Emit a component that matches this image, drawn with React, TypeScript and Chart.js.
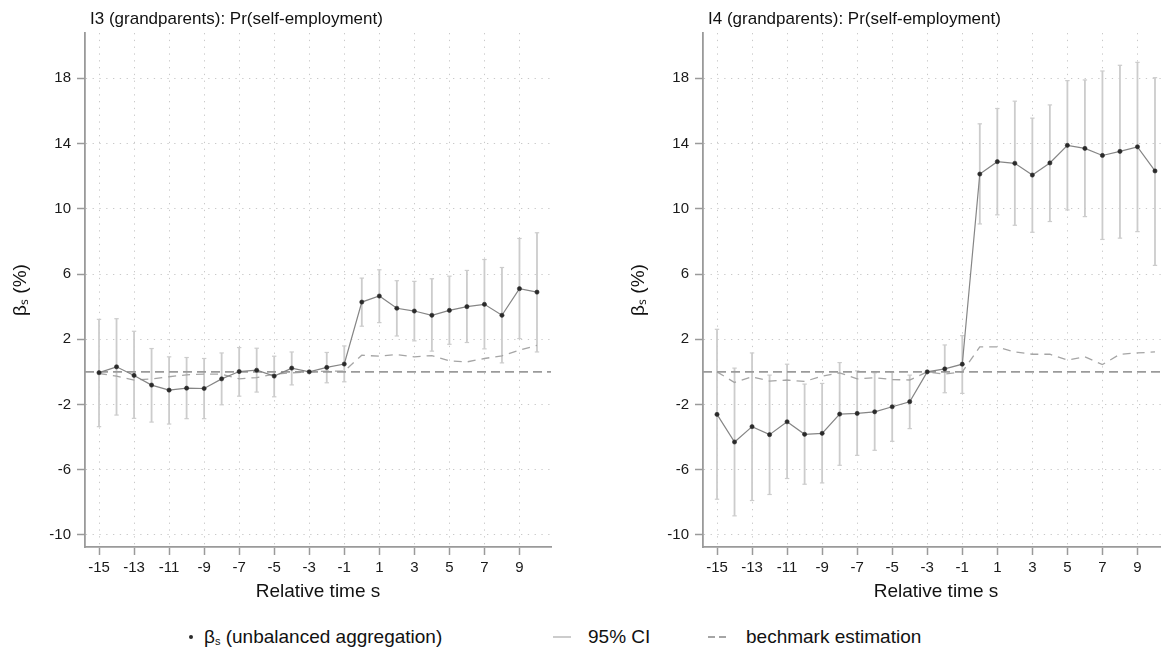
import React, { useEffect, useRef } from "react";
import { Chart, registerables } from "chart.js";

Chart.register(...registerables);

// ---------- data ----------
const relTime = [-15, -14, -13, -12, -11, -10, -9, -8, -7, -6, -5, -4, -3, -2, -1, 0, 1, 2, 3, 4, 5, 6, 7, 8, 9, 10];
const xTickLabels = [-15, -13, -11, -9, -7, -5, -3, -1, 1, 3, 5, 7, 9];
const yTickLabels = [-10, -6, -2, 2, 6, 10, 14, 18];

// I3 panel
const i3Beta = [-0.05, 0.31, -0.22, -0.81, -1.12, -1.0, -1.02, -0.43, 0.02, 0.1, -0.26, 0.23, 0, 0.27, 0.48, 4.28, 4.65, 3.9, 3.73, 3.47, 3.77, 4.0, 4.14, 3.47, 5.1, 4.89];
const i3Lo = [-3.36, -2.65, -2.85, -3.08, -3.2, -2.87, -2.87, -2.02, -1.49, -1.24, -1.53, -0.8, null, -0.67, -0.61, 2.8, 3.02, 2.2, 1.9, 1.27, 1.69, 1.8, 1.41, 0.55, 2.04, 1.22];
const i3Hi = [3.22, 3.26, 2.49, 1.43, 0.92, 0.88, 0.82, 1.16, 1.49, 1.45, 0.96, 1.22, null, 1.19, 1.59, 5.75, 6.26, 5.59, 5.55, 5.71, 5.87, 6.22, 6.89, 6.4, 8.18, 8.53];
const i3Bench = [-0.1, -0.26, -0.51, -0.43, -0.3, -0.18, -0.14, -0.14, -0.43, -0.35, -0.14, -0.06, 0, 0.04, 0.05, 1.02, 0.96, 1.06, 0.92, 1.0, 0.67, 0.61, 0.82, 0.98, 1.33, 1.63];

// I4 panel
const i4Beta = [-2.61, -4.3, -3.36, -3.85, -3.06, -3.83, -3.77, -2.59, -2.55, -2.45, -2.14, -1.83, 0, 0.18, 0.47, 12.13, 12.89, 12.79, 12.07, 12.81, 13.89, 13.7, 13.27, 13.52, 13.8, 12.32];
const i4Lo = [-7.81, -8.83, -7.89, -7.52, -6.54, -6.89, -6.81, -5.73, -5.12, -4.81, -4.26, -3.48, null, -1.28, -1.32, 9.07, 9.63, 8.99, 8.56, 9.22, 9.93, 9.52, 8.12, 8.2, 8.6, 6.53];
const i4Hi = [2.61, 0.23, 1.16, -0.2, 0.47, -0.75, -0.71, 0.57, 0.06, -0.06, -0.02, -0.2, null, 1.65, 2.22, 15.21, 16.15, 16.6, 15.56, 16.37, 17.86, 17.9, 18.45, 18.8, 18.98, 18.04];
const i4Bench = [0, -0.65, -0.3, -0.57, -0.5, -0.59, -0.26, -0.06, -0.43, -0.36, -0.47, -0.5, 0, -0.14, 0, 1.53, 1.53, 1.22, 1.08, 1.08, 0.72, 0.92, 0.45, 1.08, 1.16, 1.22];

const titles = ["I3 (grandparents): Pr(self-employment)", "I4 (grandparents): Pr(self-employment)"];
const xAxisTitle = "Relative time s";
const yAxisTitle = "βₛ (%)";

// ---------- styling ----------
const X_MIN = -15.8;
const X_MAX = 10.8;
const Y_MIN = -10.74;
const Y_MAX = 20.78;
const FONT = "'Liberation Sans', Arial, Helvetica, sans-serif";
const CANVAS_W = 580;
const CANVAS_H = 610;

function buildConfig(beta: number[], lo: (number | null)[], hi: (number | null)[], bench: number[]): any {
  const ciData: any[] = [];
  relTime.forEach((x, i) => {
    if (lo[i] == null || hi[i] == null) return;
    ciData.push({ x, y: lo[i] }, { x, y: hi[i] }, { x, y: null });
  });
  const mainData = relTime.map((x, i) => ({ x, y: beta[i] }));
  const benchData = relTime.map((x, i) => ({ x, y: bench[i] }));
  const zeroData = [
    { x: X_MIN, y: 0 },
    { x: X_MAX, y: 0 },
  ];

  return {
    type: "line",
    data: {
      datasets: [
        {
          label: "main",
          data: mainData,
          borderColor: "#858585",
          borderWidth: 1.2,
          pointRadius: 2.1,
          pointStyle: "circle",
          pointBackgroundColor: "#2a2a2a",
          pointBorderColor: "#2a2a2a",
          pointBorderWidth: 0.6,
          tension: 0,
        },
        {
          label: "zero",
          data: zeroData,
          borderColor: "#9a9a9a",
          borderWidth: 1.6,
          borderDash: [9, 5],
          pointRadius: 0,
        },
        {
          label: "bench",
          data: benchData,
          borderColor: "#a5a5a5",
          borderWidth: 1.3,
          borderDash: [8, 6],
          pointRadius: 0,
          tension: 0,
        },
        {
          label: "ci",
          data: ciData,
          borderColor: "#cccccc",
          borderWidth: 1.8,
          spanGaps: false,
          pointStyle: "line",
          pointRadius: 2.2,
          pointBorderColor: "#cccccc",
          pointBorderWidth: 1.2,
        },
      ],
    },
    options: {
      animation: false,
      responsive: false,
      maintainAspectRatio: false,
      events: [],
      layout: { padding: { top: 33, right: 29, left: 0, bottom: 0 } },
      plugins: {
        legend: { display: false },
        tooltip: { enabled: false },
        title: { display: false },
      },
      scales: {
        x: {
          type: "linear",
          min: X_MIN,
          max: X_MAX,
          afterBuildTicks: (s: any) => {
            s.ticks = xTickLabels.map((v) => ({ value: v }));
          },
          afterFit: (s: any) => {
            s.height = 63;
          },
          grid: {
            color: "#c9c9c9",
            lineWidth: 1,
            drawTicks: true,
            tickLength: 8,
            tickColor: "#9a9a9a",
            tickWidth: 1.5,
            tickBorderDash: [],
          },
          border: { display: true, color: "#9a9a9a", width: 1.8, dash: [1.3, 5.5] },
          ticks: {
            font: { family: FONT, size: 15 },
            color: "#1a1a1a",
            padding: 4,
            maxRotation: 0,
            autoSkip: false,
            callback: (v: any) => String(v),
          },
          title: {
            display: true,
            text: xAxisTitle,
            font: { family: FONT, size: 19 },
            color: "#111",
            padding: { top: 0, bottom: 7 },
          },
        },
        y: {
          type: "linear",
          min: Y_MIN,
          max: Y_MAX,
          afterBuildTicks: (s: any) => {
            s.ticks = yTickLabels.map((v) => ({ value: v }));
          },
          afterFit: (s: any) => {
            s.width = 85;
          },
          grid: {
            color: "#c9c9c9",
            lineWidth: 1,
            drawTicks: true,
            tickLength: 8,
            tickColor: "#9a9a9a",
            tickWidth: 1.5,
            tickBorderDash: [],
          },
          border: { display: true, color: "#9a9a9a", width: 1.8, dash: [1.3, 5.5] },
          ticks: {
            font: { family: FONT, size: 15 },
            color: "#1a1a1a",
            padding: 6,
            autoSkip: false,
            callback: (v: any) => String(v),
          },
          title: {
            display: true,
            text: yAxisTitle,
            font: { family: FONT, size: 19 },
            color: "#111",
            padding: { top: 9, bottom: 0 },
          },
        },
      },
    },
  };
}

function Panel(props: { left: number; title: string; beta: number[]; lo: (number | null)[]; hi: (number | null)[]; bench: number[] }) {
  const ref = useRef<HTMLCanvasElement | null>(null);
  useEffect(() => {
    if (!ref.current) return;
    const chart = new Chart(ref.current, buildConfig(props.beta, props.lo, props.hi, props.bench));
    return () => chart.destroy();
  }, []);
  return (
    <div style={{ position: "absolute", left: props.left, top: 0, width: CANVAS_W, height: CANVAS_H }}>
      <canvas ref={ref} width={CANVAS_W} height={CANVAS_H} style={{ width: CANVAS_W, height: CANVAS_H, display: "block" }} />
      <div
        style={{
          position: "absolute",
          left: 90,
          top: 9,
          fontFamily: FONT,
          fontSize: 17,
          lineHeight: "20px",
          color: "#111",
          whiteSpace: "nowrap",
        }}
      >
        {props.title}
      </div>
    </div>
  );
}

export default function App() {
  const legendText: React.CSSProperties = {
    position: "absolute",
    top: 626,
    fontFamily: FONT,
    fontSize: 19,
    lineHeight: "22px",
    color: "#111",
    whiteSpace: "nowrap",
  };
  return (
    <div
      style={{
        position: "fixed",
        left: 0,
        top: 0,
        width: 1161,
        height: 654,
        overflow: "hidden",
        background: "#fff",
      }}
    >
      <Panel left={0} title={titles[0]} beta={i3Beta} lo={i3Lo} hi={i3Hi} bench={i3Bench} />
      <Panel left={618} title={titles[1]} beta={i4Beta} lo={i4Lo} hi={i4Hi} bench={i4Bench} />
      {/* legend */}
      <div style={{ position: "absolute", left: 189, top: 635, width: 4, height: 4, borderRadius: 2, background: "#2a2a2a" }} />
      <div style={{ ...legendText, left: 204 }}>
        β<span style={{ fontSize: 11, position: "relative", top: 2 }}>s</span> (unbalanced aggregation)
      </div>
      <div style={{ position: "absolute", left: 553, top: 636, width: 18, height: 2, background: "#cccccc" }} />
      <div style={{ ...legendText, left: 588 }}>95% CI</div>
      <div style={{ position: "absolute", left: 708, top: 636, width: 7, height: 1.6, background: "#a5a5a5" }} />
      <div style={{ position: "absolute", left: 719, top: 636, width: 7, height: 1.6, background: "#a5a5a5" }} />
      <div style={{ ...legendText, left: 746 }}>bechmark estimation</div>
    </div>
  );
}
